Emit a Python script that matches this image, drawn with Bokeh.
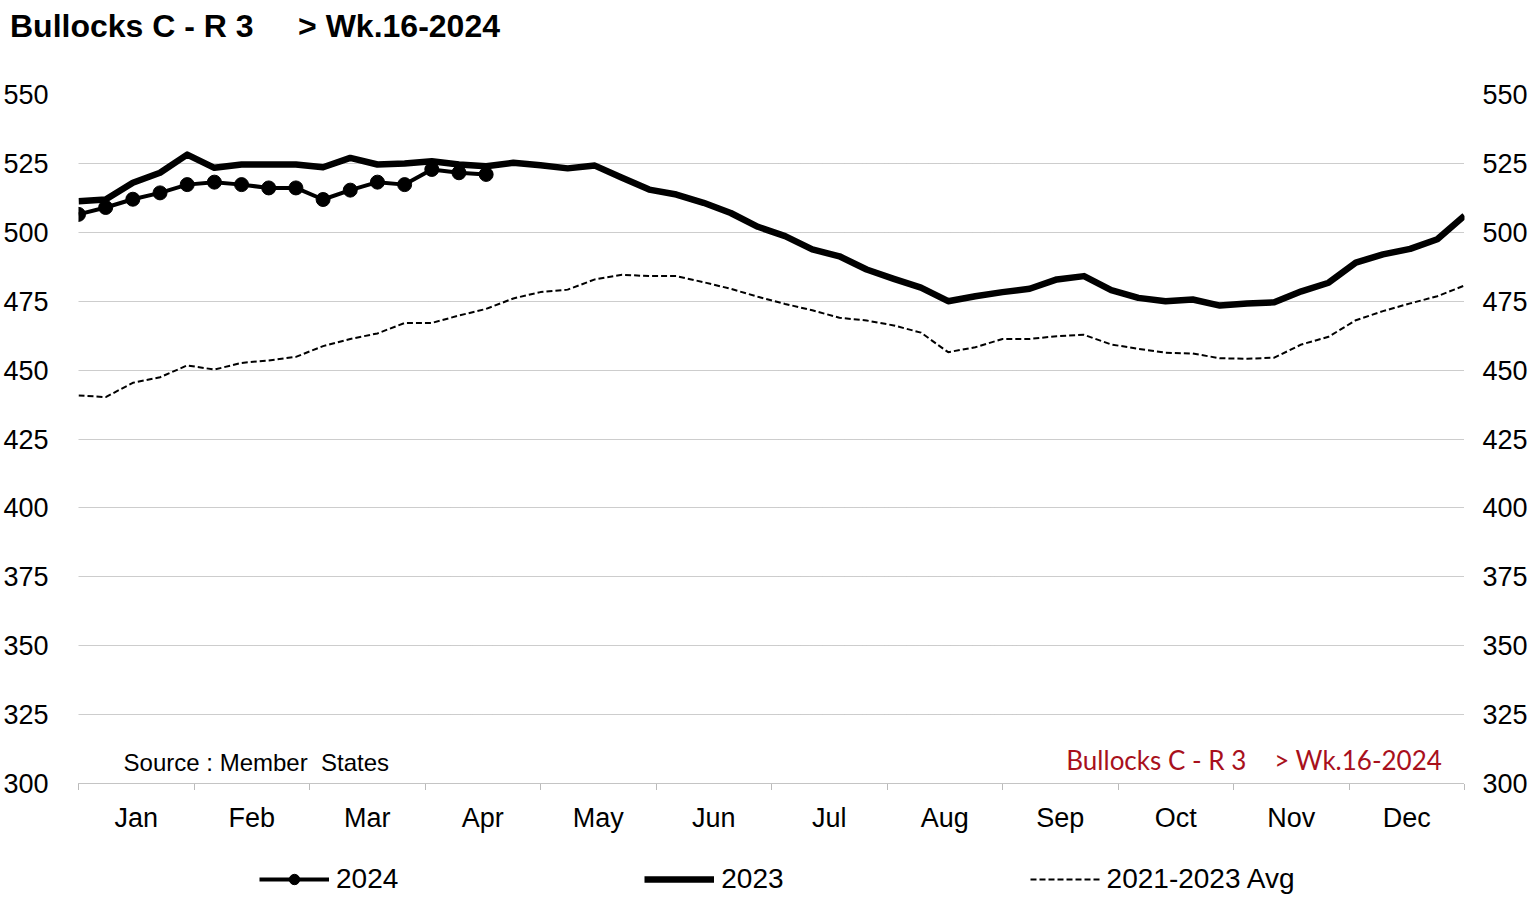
from bokeh.plotting import figure
from bokeh.layouts import column
from bokeh.models import (Range1d, LinearAxis, FixedTicker, Legend, LegendItem, Label, Div)
from bokeh.embed import file_html
from bokeh.resources import INLINE

# ---------------- data ----------------
months = ["Jan", "Feb", "Mar", "Apr", "May", "Jun", "Jul", "Aug", "Sep", "Oct", "Nov", "Dec"]
weeks_2024 = list(range(1, 17))
price_2024 = [506.5, 509.0, 512.0, 514.3, 517.3, 518.2, 517.3, 516.1, 516.1, 511.9,
              515.3, 518.2, 517.3, 522.8, 521.6, 521.0]
weeks_all = list(range(1, 53))
price_2023 = [511.3, 511.9, 518.0, 521.6, 528.2, 523.4, 524.6, 524.6, 524.6, 523.6,
              527.0, 524.6, 525.0, 525.8, 524.6, 524.0, 525.2, 524.3, 523.2, 524.2,
              519.8, 515.5, 513.7, 510.7, 507.0, 502.0, 498.6, 493.8, 491.3, 486.5,
              483.1, 479.9, 475.0, 476.8, 478.3, 479.5, 482.9, 484.1, 479.0, 476.2,
              475.0, 475.6, 473.4, 474.2, 474.6, 478.6, 481.7, 489.0, 492.0, 494.0,
              497.5, 506.0]
price_avg = [440.8, 440.2, 445.4, 447.4, 451.7, 450.2, 452.6, 453.5, 454.8, 458.7,
             461.3, 463.3, 467.1, 467.1, 469.8, 472.2, 476.0, 478.3, 479.2, 482.9,
             484.6, 484.1, 484.1, 481.9, 479.5, 476.6, 474.0, 471.7, 469.0, 468.0,
             466.2, 463.6, 456.5, 458.3, 461.3, 461.3, 462.3, 462.8, 459.3, 457.7,
             456.3, 456.0, 454.3, 454.1, 454.5, 459.3, 462.1, 468.1, 471.4, 474.2,
             476.8, 480.7]
y_ticks = [300, 325, 350, 375, 400, 425, 450, 475, 500, 525, 550]
series_names = ["2024", "2023", "2021-2023 Avg"]
NB = "\u00a0"
title_left = "Bullocks C - R 3"
title_right = "> Wk.16-2024"
title_full = "Bullocks C - R 3     &gt; Wk.16-2024"
source_text = "Source : Member" + NB + " States"

FONT = "Liberation Sans"
STY_AVG = dict(line_color="black", line_width=2, line_dash="6 3")
STY_23 = dict(line_color="black", line_width=6.5, line_join="round")
STY_24 = dict(line_color="black", line_width=4, line_join="round")
STY_24M = dict(size=14, fill_color="black", line_color="black")

# ---------------- title ----------------
title_div = Div(text=title_full, width=900, height=50, margin=(8, 0, 0, 10),
                styles={"font-family": FONT, "font-weight": "bold", "font-size": "32px",
                        "line-height": "36px", "white-space": "pre", "color": "black"})

# ---------------- main figure ----------------
p = figure(frame_width=1386, frame_height=689, output_backend="svg", toolbar_location=None,
           x_range=Range1d(1, 52), y_range=Range1d(300, 550),
           min_border_left=75, min_border_right=61, min_border_top=36, min_border_bottom=58,
           x_axis_location=None, y_axis_location=None)
p.outline_line_color = None
p.background_fill_color = "white"
p.border_fill_color = "white"

# month boundaries and centres (weeks)
step = 51 / 12
bounds = [1 + step * k for k in range(13)]
centres = [1 + step * k + step / 2 for k in range(12)]

for side, standoff in (("left", 24), ("right", 12)):
    ax = LinearAxis(ticker=FixedTicker(ticks=y_ticks))
    ax.axis_line_color = None
    ax.major_tick_line_color = None
    ax.minor_tick_line_color = None
    ax.major_label_text_font = FONT
    ax.major_label_text_font_size = "27px"
    ax.major_label_text_color = "black"
    ax.major_label_standoff = standoff
    p.add_layout(ax, side)

xax = LinearAxis(ticker=FixedTicker(ticks=centres, minor_ticks=bounds))
xax.major_label_overrides = {c: m for c, m in zip(centres, months)}
xax.major_tick_line_color = None
xax.major_tick_out = 0
xax.major_tick_in = 0
xax.minor_tick_out = 6
xax.minor_tick_in = 0
xax.minor_tick_line_color = "#777777"
xax.minor_tick_line_dash = "1 1"
xax.axis_line_color = "#888888"
xax.axis_line_dash = "1 1"
xax.major_label_text_font = FONT
xax.major_label_text_font_size = "27px"
xax.major_label_text_color = "black"
xax.major_label_standoff = 13
p.add_layout(xax, "below")

p.ygrid.ticker = FixedTicker(ticks=y_ticks)
p.ygrid.grid_line_color = "#9a9a9a"
p.ygrid.grid_line_dash = "1 1"
p.ygrid.grid_line_width = 1
p.xgrid.grid_line_color = None

p.line(weeks_all, price_avg, **STY_AVG)
p.line(weeks_all, price_2023, **STY_23)
p.line(weeks_2024, price_2024, **STY_24)
p.scatter(weeks_2024, price_2024, **STY_24M)

p.add_layout(Label(x=2.66, y=307.6, text=source_text, text_font=FONT,
                   text_font_size="24px", text_baseline="middle", text_color="black"))
p.add_layout(Label(x=43.97, y=308.7, text=title_left, text_font="Lato",
                   text_font_size="26px", text_baseline="middle", text_align="right",
                   text_color="#A8101C"))
p.add_layout(Label(x=51.18, y=308.7, text=title_right, text_font="Lato",
                   text_font_size="26px", text_baseline="middle", text_align="right",
                   text_color="#A8101C"))

# ---------------- legend strip ----------------
# the series are drawn again here, but outside this strip's visible range,
# so that only the legend (which takes their styles) shows.
q = figure(width=1522, height=62, output_backend="svg", toolbar_location=None,
           x_range=Range1d(-10, -9), y_range=Range1d(0, 1),
           min_border=0, x_axis_location=None, y_axis_location=None)
q.outline_line_color = None
q.xgrid.grid_line_color = None
q.ygrid.grid_line_color = None
g24l = q.line(weeks_2024, price_2024, **STY_24)
g24m = q.scatter(weeks_2024, price_2024, **STY_24M)
g23 = q.line(weeks_all, price_2023, **STY_23)
gav = q.line(weeks_all, price_avg, **STY_AVG)
legend = Legend(items=[
    LegendItem(label=series_names[0], renderers=[g24l, g24m]),
    LegendItem(label=series_names[1], renderers=[g23]),
    LegendItem(label=series_names[2], renderers=[gav]),
], orientation="horizontal", location=(181, 8))
legend.spacing = 246
legend.glyph_width = 70
legend.glyph_height = 26
legend.label_standoff = 7
legend.padding = 0
legend.margin = 0
legend.border_line_color = None
legend.background_fill_alpha = 0
legend.label_text_font = FONT
legend.label_text_font_size = "28px"
legend.label_text_color = "black"
q.add_layout(legend)

layout = column(title_div, p, q, spacing=0)
open("out.html", "w").write(file_html(layout, INLINE))
